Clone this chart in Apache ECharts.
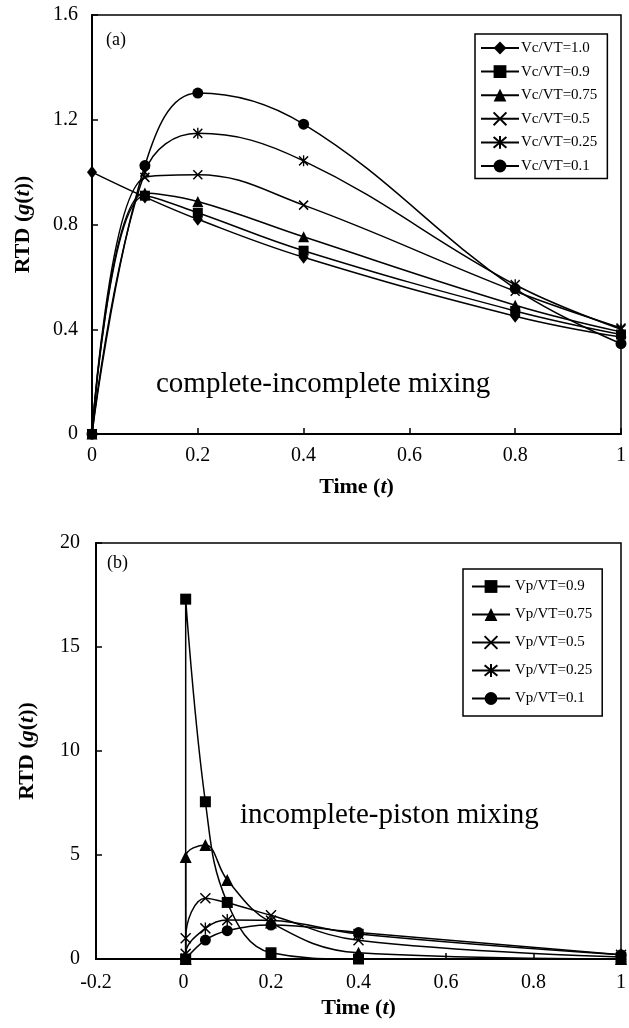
<!DOCTYPE html>
<html>
<head>
<meta charset="utf-8">
<script src="https://cdn.jsdelivr.net/npm/echarts@6/dist/echarts.min.js"></script>
<style>
  html, body { margin: 0; padding: 0; background: #fff; }
  #chart { width: 629px; height: 1028px; }
</style>
</head>
<body>
<div id="chart"></div>
<script>
// (a) complete-incomplete mixing
var tA = [0, 0.1, 0.2, 0.4, 0.8, 1.0];
var namesA = ["Vc/VT=1.0", "Vc/VT=0.9", "Vc/VT=0.75", "Vc/VT=0.5", "Vc/VT=0.25", "Vc/VT=0.1"];
var vc10 = [1.0, 0.905, 0.82, 0.675, 0.45, 0.37];
var vc09 = [0, 0.91, 0.845, 0.70, 0.47, 0.38];
var vc075 = [0, 0.92, 0.888, 0.753, 0.492, 0.39];
var vc05 = [0, 0.98, 0.99, 0.874, 0.545, 0.405];
var vc025 = [0, 1.0, 1.148, 1.043, 0.57, 0.40];
var vc01 = [0, 1.025, 1.302, 1.183, 0.555, 0.345];

// (b) incomplete-piston mixing
var tB = [0.005, 0.005, 0.05, 0.1, 0.2, 0.4, 1.0];
var namesB = ["Vp/VT=0.9", "Vp/VT=0.75", "Vp/VT=0.5", "Vp/VT=0.25", "Vp/VT=0.1"];
var vp09 = [0, 17.3, 7.56, 2.72, 0.3, 0, 0];
var vp075 = [0, 4.9, 5.48, 3.8, 1.75, 0.3, 0];
var vp05 = [0, 1.0, 2.92, 2.7, 2.1, 0.9, 0.1];
var vp025 = [0, 0.25, 1.47, 1.87, 1.85, 1.2, 0.2];
var vp01 = [0, 0, 0.91, 1.36, 1.63, 1.27, 0.2];

var FONT = "Liberation Serif";
var CROSS = "path://M0,0L10,10M10,0L0,10";
var STAR = "path://M0,1L10,11M10,1L0,11M5,0L5,12";

function pts(ts, vs) {
  return ts.map(function (t, i) { return [t, vs[i]]; });
}

function mkSeries(name, ts, vs, symbol, size, idx) {
  return {
    name: name,
    type: "line",
    xAxisIndex: idx,
    yAxisIndex: idx,
    data: pts(ts, vs),
    smooth: 0.4,
    symbol: symbol,
    symbolSize: size,
    showAllSymbol: true,
    lineStyle: { color: "#000", width: 1.5 },
    itemStyle: { color: "#000", borderColor: "#000", borderWidth: symbol.indexOf("path") === 0 ? 1.5 : 0 },
    emphasis: { disabled: true },
    animation: false,
  };
}

function valueAxis(idx, min, max, interval, margin) {
  return {
    type: "value",
    gridIndex: idx,
    min: min,
    max: max,
    interval: interval,
    axisLine: { show: true, onZero: false, lineStyle: { color: "#000", width: 2 } },
    axisTick: { show: true, inside: true, length: 6, lineStyle: { color: "#000", width: 1.5 } },
    axisLabel: { color: "#000", fontFamily: FONT, fontSize: 20, margin: margin },
    splitLine: { show: false },
  };
}

var chart = echarts.init(document.getElementById("chart"));

var nameStyle = { color: "#000", fontFamily: FONT, fontSize: 22, fontWeight: "bold",
  rich: { i: { fontFamily: FONT, fontSize: 22, fontWeight: "bold", fontStyle: "italic", color: "#000" } } };

var xA = valueAxis(0, 0, 1, 0.2, 12);
xA.name = "Time ({i|t})";
xA.nameLocation = "middle";
xA.nameGap = 42;
xA.nameTextStyle = nameStyle;

var yA = valueAxis(0, 0, 1.6, 0.4, 14);
yA.name = "RTD ({i|g}({i|t}))";
yA.nameLocation = "middle";
yA.nameGap = 58;
yA.nameTextStyle = nameStyle;

var xB = valueAxis(1, -0.2, 1, 0.2, 14);
xB.name = "Time ({i|t})";
xB.nameLocation = "middle";
xB.nameGap = 38;
xB.nameTextStyle = nameStyle;

var yB = valueAxis(1, 0, 20, 5, 16);
yB.name = "RTD ({i|g}({i|t}))";
yB.nameLocation = "middle";
yB.nameGap = 58;
yB.nameTextStyle = nameStyle;

var legendBase = {
  orient: "vertical",
  itemWidth: 38,
  itemHeight: 16,
  borderColor: "#000",
  borderWidth: 1.5,
  backgroundColor: "#fff",
  selectedMode: false,
};

var option = {
  backgroundColor: "#fff",
  animation: false,
  grid: [
    { left: 92, top: 15, right: 2, bottom: 594, show: true, borderColor: "#000", borderWidth: 1.5, backgroundColor: "transparent" },
    { left: 96, top: 543, right: 2, bottom: 69, show: true, borderColor: "#000", borderWidth: 1.5, backgroundColor: "transparent" },
  ],
  xAxis: [xA, xB],
  yAxis: [yA, yB],
  legend: [
    Object.assign({}, legendBase, {
      data: namesA, left: 475, top: 34, itemGap: 8.6, padding: [6.5, 10, 5, 5],
      textStyle: { color: "#000", fontFamily: FONT, fontSize: 15, padding: [0, 0, 0, -3] },
    }),
    Object.assign({}, legendBase, {
      data: namesB, left: 463, top: 569, itemGap: 13, padding: [10, 10, 10, 8],
      textStyle: { color: "#000", fontFamily: FONT, fontSize: 15 },
    }),
  ],
  graphic: [
    { type: "text", left: 106, top: 31, style: { text: "(a)", fontFamily: FONT, fontSize: 18, fill: "#000" } },
    { type: "text", left: 107, top: 554, style: { text: "(b)", fontFamily: FONT, fontSize: 18, fill: "#000" } },
    { type: "text", left: 156, top: 370, style: { text: "complete-incomplete mixing", fontFamily: FONT, fontSize: 29, fill: "#000" } },
    { type: "text", left: 240, top: 801, style: { text: "incomplete-piston mixing", fontFamily: FONT, fontSize: 29, fill: "#000" } },
  ],
  series: [
    mkSeries(namesA[0], tA, vc10, "diamond", [10, 13], 0),
    mkSeries(namesA[1], tA, vc09, "rect", 10, 0),
    mkSeries(namesA[2], tA, vc075, "triangle", 11, 0),
    mkSeries(namesA[3], tA, vc05, CROSS, 9, 0),
    mkSeries(namesA[4], tA, vc025, STAR, [9, 11], 0),
    mkSeries(namesA[5], tA, vc01, "circle", 11, 0),
    mkSeries(namesB[0], tB, vp09, "rect", 11, 1),
    mkSeries(namesB[1], tB, vp075, "triangle", 12, 1),
    mkSeries(namesB[2], tB, vp05, CROSS, 10, 1),
    mkSeries(namesB[3], tB, vp025, STAR, [10, 12], 1),
    mkSeries(namesB[4], tB, vp01, "circle", 11, 1),
  ],
};

chart.setOption(option);
</script>
</body>
</html>
